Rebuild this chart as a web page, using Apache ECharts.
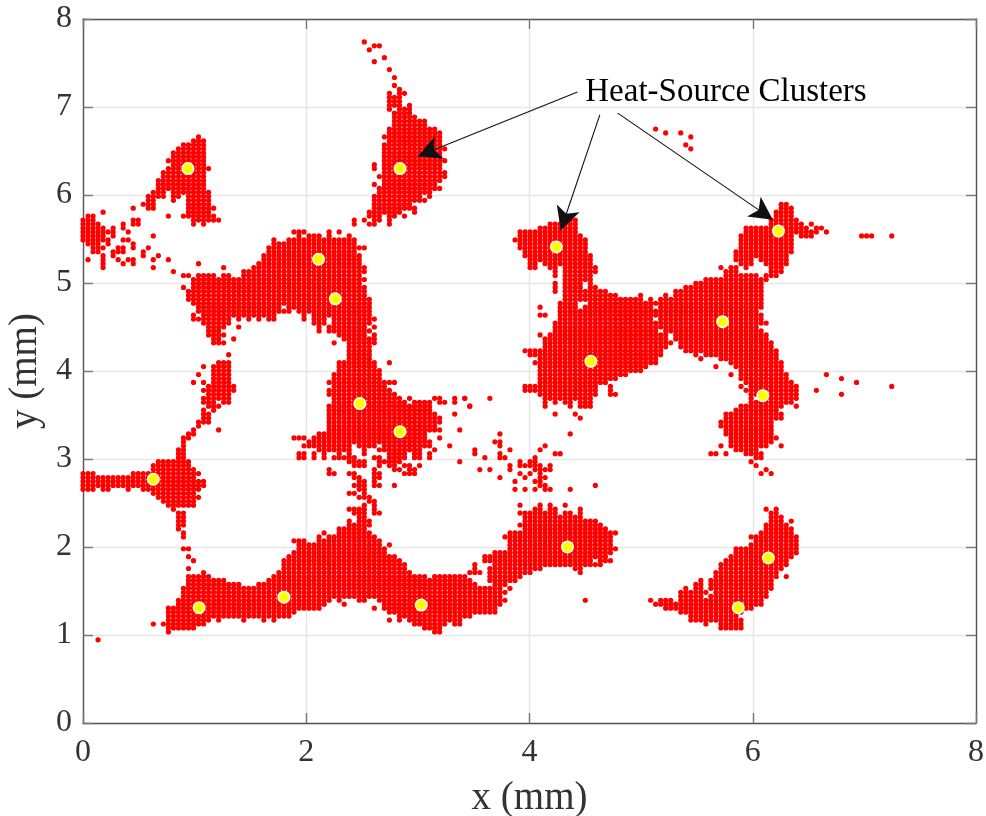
<!DOCTYPE html>
<html><head><meta charset="utf-8">
<style>html,body{margin:0;padding:0;background:#fff}#c{width:986px;height:816px}</style>
<script src="https://cdn.jsdelivr.net/npm/echarts@6/dist/echarts.min.js"></script></head>
<body><div id="c"></div>
<script>
// Heat-source grid cells: [row, firstCol, lastCol, firstCol, lastCol, ...]
const gridStepMm = 0.045;
const topLeftTriangle = [[148,23,23],[147,22,24],[146,20,24],[145,19,24],[144,18,24],[143,18,24],[142,17,24],[141,18,24],[140,17,25],[139,16,24],[138,16,24],[137,15,24],[136,15,24],[135,15,24],[134,14,16,18,25],[133,13,16,18,19,21,25],[132,13,14,18,18,21,25],[131,12,14,21,25],[130,10,10,13,14,21,26],[129,21,25],[128,17,17,20,26],[127,10,11,22,27],[126,8,8,10,11,22,22,24,24]];
const leftTail = [[129,4,4],[128,1,2],[127,0,2],[126,0,3],[125,0,4,6,6,8,8],[124,0,6,9,9],[123,0,4,6,6,14,14],[122,0,4,5,5,8,9],[121,1,3,5,5,10,10],[120,2,4,7,8,10,10,13,13],[119,2,3,6,8,12,12],[118,4,4,6,6,12,12,15,15],[117,1,1,4,4,7,7,9,10,14,14,17,17],[116,4,4,8,8,10,10,23,23],[115,4,4,14,14,28,28],[114,18,18],[113,20,21,28,29],[110,20,20]];
const topCentre = [[172,56,56],[171,58,59],[170,57,57],[168,60,60],[167,58,58],[165,61,61],[163,62,62],[161,62,62],[160,63,63],[159,61,61,63,64],[158,61,63],[157,61,63],[156,61,63,65,65],[155,61,61,63,65],[154,62,65],[153,62,66],[152,62,68],[151,62,68],[150,61,70],[149,61,71],[148,60,71],[147,61,71],[146,60,71],[145,60,72],[144,60,71],[143,60,71],[142,60,72],[141,58,58,60,71],[140,58,58,60,71],[139,60,72],[138,59,72],[137,60,71],[136,58,58,60,70],[135,59,71],[134,59,69],[133,58,67,69,69],[132,58,68],[131,58,65],[130,58,66],[129,57,63,66,66],[128,57,59,61,62,64,64],[127,54,54,56,56,58,59,61,61],[126,54,54,57,58,61,61]];
const upperCentre = [[124,42,44,49,49,51,51],[123,43,43,45,47,49,49,53,53],[122,38,38,41,54],[121,38,54],[120,37,56],[119,37,54],[118,36,55],[117,36,55],[116,35,55],[115,34,56],[114,32,56],[113,23,26,32,55],[112,22,56],[111,22,55],[110,22,56],[109,21,56],[108,21,56],[107,21,57],[106,22,57],[105,23,39,41,57],[104,23,41,43,57],[103,22,22,24,38,44,44,46,57],[102,22,29,31,31,33,33,35,35,37,38,44,44,46,48,50,58],[101,24,29,46,48,50,57],[100,25,28,31,31,47,47,49,56,58,58],[99,25,27,47,47,49,57],[98,25,28,51,56,58,58],[97,26,27,30,30,52,58],[96,26,28,50,50,53,58],[95,53,57],[94,53,57],[93,29,29,53,57],[92,53,57]];
const midLeftStem = [[91,27,29],[90,24,24,26,29],[89,26,29],[88,23,23,26,29],[87,26,29],[86,22,22,24,24,26,29],[85,25,30],[84,24,30],[83,25,29],[82,24,29],[81,24,26,28,29],[80,25,27],[79,24,24,26,26],[78,24,25],[77,24,25],[76,23,25],[75,23,23],[74,22,22,27,27],[73,21,22],[72,20,21],[71,20,20],[70,20,20],[69,19,20],[68,19,20]];
const midCentre = [[91,51,58,61,61],[90,51,58],[89,51,59],[88,50,59],[87,50,59],[86,49,62],[85,50,60],[84,49,61],[83,49,62],[82,50,63,65,65,70,71,74,74,76,76,81,81],[81,50,64,66,69,71,72,74,74],[80,49,69,77,77],[79,49,69],[78,49,70,74,74],[77,49,71],[76,49,71],[75,49,70],[74,49,71,75,75],[73,47,68],[72,42,44,46,68,71,71],[71,45,69],[70,44,53,55,58,60,69,73,73],[69,47,53,56,56,59,67,70,70,78,78],[68,43,44,46,46,48,48,51,51,53,53,56,56,61,64,66,67,69,69,78,78],[67,43,44,46,46,48,48,50,54,58,59,61,64,66,67,69,69],[66,53,56,59,60,61,63,75,75],[65,54,56,59,59,61,62,64,65,67,67],[64,49,49,58,58,62,63,65,66],[63,49,50,53,54,58,59,64,66],[62,54,55,58,59],[61,55,56,58,58],[60,54,56,58,59,62,62],[59,55,56],[58,53,54,56,56],[57,55,57],[56,57,58],[55,56,56,58,58],[54,53,56,58,58],[53,54,56,58,59],[52,55,56],[51,53,53,55,57]];
const leftBlob = [[67,19,20],[66,15,21],[65,14,21],[64,14,22],[63,0,2,10,23],[62,0,22],[61,0,24],[60,0,24],[59,0,2,4,5,9,9,12,23],[58,14,22],[57,15,23],[56,16,22],[55,17,22],[54,18,18],[53,19,20],[52,19,20],[51,19,20],[50,19,20],[49,19,19],[48,20,20],[47,20,20],[44,20,21],[42,21,21],[41,22,22],[39,21,21]];
const lowerBand = [[50,53,57],[49,51,56],[48,48,48,51,57],[47,47,47,49,58],[46,42,44,47,59],[45,43,59,61,61],[44,43,60],[43,42,60],[42,41,62],[41,40,63],[40,40,64],[39,40,64],[38,24,24,39,65,77,77],[37,21,25,38,68,70,76],[36,21,28,37,77],[35,21,31,35,78],[34,20,82],[33,20,83],[32,20,83],[31,19,49,51,51,55,56,59,83],[30,19,48,52,52,60,83],[29,17,47,58,58,60,82],[28,17,42,61,82],[27,17,41,63,77],[26,17,24,25,25,27,27,32,32,36,36,38,38,61,61,63,63,65,75],[25,14,14,16,24,66,72,74,75],[24,17,22,68,71],[23,17,17,70,71],[21,3,3]];
const scatterCentre = [[82,76,76],[80,77,77],[73,83,83],[71,82,83],[70,83,83,92,92],[69,85,85,91,91],[68,83,83,94,95],[67,80,80,83,84,90,90],[66,87,87,89,90],[65,85,85,87,91,93,93],[64,79,79,81,81,85,85,90,93],[63,87,87,89,89,91,91],[62,83,83,88,88,91,92],[61,86,86,90,91],[60,91,92,102,102],[59,86,86,88,88,90,90,92,93,97,97]];
const centreRight = [[55,87,87,91,91,93,93,96,96],[54,90,91,93,94,99,99],[53,87,91,92,94,96,97,99,99],[52,88,99],[51,88,102],[50,87,103],[49,88,104],[48,85,106],[47,84,105],[46,85,105],[45,85,105],[44,85,106],[43,82,105],[42,80,104],[41,80,101,103,105],[40,78,78,82,103],[39,78,78,81,91,98,99],[38,78,79,81,89,99,99],[37,81,87],[36,81,84,85,86],[35,82,84],[34,83,83,85,85],[33,84,84],[31,84,84,100,100]];
const upperRightStack = [[150,114,114],[149,116,116,119,119],[148,121,121],[146,120,120],[145,121,121],[127,97,98],[126,93,98],[125,91,98],[124,87,98],[123,87,99],[122,86,100],[121,87,100],[120,87,100],[119,88,100],[118,88,101],[117,89,101],[116,89,90,92,101],[115,89,90,93,94,96,102],[114,94,94,96,102],[113,94,94,96,101],[112,96,101],[111,94,94,96,99,101,101],[110,94,94,96,99,101,102],[109,94,94,96,104]];
const rightPeak = [[131,139,140],[130,139,141],[129,138,141],[128,138,141],[127,137,142],[126,137,143,145,145],[125,132,144,146,147],[124,132,146,148,148],[123,131,141,143,145,155,157,161,161],[122,131,141],[121,131,141],[120,131,141],[119,130,141],[118,130,140],[117,130,133,135,140],[116,131,133,136,140],[115,127,127,129,130,132,132,137,139],[114,128,130,137,139],[113,128,134,136,138],[112,124,136]];
const mainMass = [[111,122,135],[110,120,135],[109,118,135],[108,96,106,111,111,116,116,118,135],[107,96,111,113,113,115,135],[106,95,98,101,135],[105,91,91,95,98,100,113,115,135],[104,95,134],[103,91,92,95,135],[102,95,113,115,135],[101,94,136],[100,94,134],[99,94,114,116,135],[98,91,91,93,116,118,136],[97,92,116,118,136],[96,92,117,119,137],[95,92,116,119,137],[94,88,115,120,138],[93,89,115,122,122,124,138],[92,91,114,123,123,127,138],[91,90,114,129,139],[90,91,112,126,126,130,139],[89,91,111,131,139],[88,91,108,129,129,131,140,148,148],[87,91,106,131,140,151,151],[86,91,104,132,141,154,154],[85,88,102,105,105,131,131,133,142,161,161],[84,88,102,105,105,132,142,146,146],[83,91,102,105,106,133,142,151,151],[82,92,101,133,133,135,142],[81,92,92,94,94,96,97,99,101,133,141],[80,92,92,97,97,99,101,131,139,142,142],[79,130,138],[78,94,94,98,98,128,139],[77,99,99,128,139],[76,127,137],[75,127,137],[74,128,137],[73,97,97,128,137],[72,129,138],[71,129,137],[70,127,127,129,136,139,139],[69,130,134],[68,125,126,128,128,132,132,133,135],[67,134,135],[66,133,133],[65,134,134],[64,136,136],[63,135,135,137,137]];
const lowerRight = [[54,136,136,138,138],[53,137,138],[52,137,139],[51,137,139,141,141],[50,136,140],[49,136,141],[48,135,141],[47,133,134,135,142],[46,134,142],[45,133,142],[44,130,142],[43,130,142],[42,129,141],[41,128,140],[40,127,140],[39,127,139],[38,126,138],[37,126,138,140,140],[36,123,123,125,137],[35,122,123,125,137],[34,120,120,122,123,125,137],[33,119,124,126,136],[32,119,123,125,136],[31,113,113,115,117,119,135],[30,114,135],[29,116,133],[28,119,131],[27,121,130],[26,121,125,126,131],[25,124,124,127,131],[24,127,131]];
const sourceCentres = [[0.94,6.30],[2.84,6.30],[4.24,5.41],[6.23,5.59],[2.11,5.27],[2.26,4.82],[5.73,4.56],[4.55,4.11],[6.09,3.72],[2.48,3.63],[2.84,3.31],[0.63,2.77],[4.34,2.00],[6.14,1.875],[1.04,1.31],[1.80,1.43],[3.03,1.34],[5.87,1.31]];
const xTitle = 'x (mm)';
const yTitle = 'y (mm)';
const annotationText = 'Heat-Source Clusters';
const annotationAnchor = [5.76,7.17];
const arrowFrom = [[4.43,7.17],[4.63,6.91],[4.79,6.93]];
const arrowTo = [[3.00,6.44],[4.28,5.60],[6.18,5.72]];

const allClusters = [topLeftTriangle,leftTail,topCentre,upperCentre,midLeftStem,midCentre,leftBlob,lowerBand,scatterCentre,centreRight,upperRightStack,rightPeak,mainMass,lowerRight];
const cells = [];
allClusters.forEach(rows => rows.forEach(row => {
  for (let i = 1; i < row.length; i += 2) {
    for (let c = row[i]; c <= row[i+1]; c++) cells.push([c*gridStepMm, row[0]*gridStepMm]);
  }
}));
const ink = '#333333';
const font = '"Liberation Serif","DejaVu Serif",serif';
function axis(pos, main, interval, title, gap, margin, pad){return {type:'value',min:0,max:8,interval,position:pos,
  name:main?title:'',nameLocation:'middle',nameGap:gap,nameTextStyle:{fontFamily:font,fontSize:39,color:ink},
  axisLine:{show:true,onZero:false,lineStyle:{color:'#555',width:1.4}},
  axisTick:{show:true,inside:true,length:10,lineStyle:{color:'#777',width:1.4}},
  axisLabel:{show:main,fontFamily:font,fontSize:32,color:ink,margin,padding:pad},
  splitLine:{show:main,lineStyle:{color:'#e6e6e6',width:1.4}}};}
const chart = echarts.init(document.getElementById('c'),null,{renderer:'canvas'});
chart.setOption({
  animation:false,
  backgroundColor:'#fff',
  grid:{left:83,top:19,right:10,bottom:93,outerBoundsMode:'none'},
  xAxis:[axis('bottom',true,2,xTitle,56,14,[0,0,0,0]),axis('top',false,2,'',0,0,0)],
  yAxis:[axis('left',true,1,yTitle,37,11,[4,0,0,0]),axis('right',false,1,'',0,0,0)],
  series:[
    {name:'Heat sources',type:'scatter',symbol:'circle',symbolSize:5.2,silent:true,
      itemStyle:{color:'#ff0000',opacity:1},data:cells,z:3},
    {name:'Cluster centres',type:'scatter',symbol:'circle',symbolSize:11.5,silent:true,
      itemStyle:{color:'#ffff00',borderColor:'#ffffff',borderWidth:1.5,opacity:1},data:sourceCentres,z:4},
    {name:'Annotation',type:'scatter',symbolSize:0,silent:true,z:6,data:[annotationAnchor],
      itemStyle:{opacity:1},
      label:{show:true,position:'inside',formatter:annotationText,fontFamily:font,fontSize:33,color:'#000'},
      markLine:{silent:true,symbol:['none','arrow'],symbolSize:[18,23],animation:false,z:5,
        lineStyle:{color:'#111',width:1.1,type:'solid',opacity:1},label:{show:false},
        data:arrowFrom.map((p,i)=>[{coord:p},{coord:arrowTo[i]}])}}
  ]
});
</script></body></html>
